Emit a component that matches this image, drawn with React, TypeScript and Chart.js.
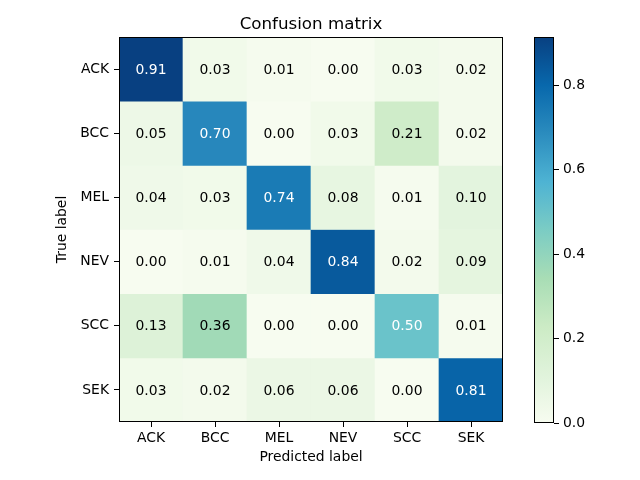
import React, { useEffect, useRef } from "react";
import { Chart, registerables } from "chart.js";

Chart.register(...registerables);

const TITLE = "Confusion matrix";
const LABELS = ["ACK", "BCC", "MEL", "NEV", "SCC", "SEK"];
const ROW_ACK = [0.914, 0.03, 0.01, 0.0, 0.03, 0.02];
const ROW_BCC = [0.05, 0.7, 0.0, 0.03, 0.21, 0.02];
const ROW_MEL = [0.04, 0.03, 0.74, 0.08, 0.01, 0.1];
const ROW_NEV = [0.0, 0.01, 0.04, 0.84, 0.02, 0.09];
const ROW_SCC = [0.13, 0.36, 0.0, 0.0, 0.5, 0.01];
const ROW_SEK = [0.03, 0.02, 0.06, 0.06, 0.0, 0.81];
const ROWS = [ROW_ACK, ROW_BCC, ROW_MEL, ROW_NEV, ROW_SCC, ROW_SEK];
const COLORBAR_TICKS = [0, 0.2, 0.4, 0.6, 0.8];

const GNBU = [
  [247, 252, 240],
  [224, 243, 219],
  [204, 235, 197],
  [168, 221, 181],
  [123, 204, 196],
  [78, 179, 211],
  [43, 140, 190],
  [8, 104, 172],
  [8, 64, 129],
];

const VMAX = Math.max(...ROWS.map((r) => Math.max(...r)));
const VMIN = 0;

function cmap(t: number): string {
  const x = Math.min(1, Math.max(0, t)) * (GNBU.length - 1);
  const i = Math.min(GNBU.length - 2, Math.floor(x));
  const f = x - i;
  const a = GNBU[i];
  const b = GNBU[i + 1];
  const c = a.map((v, k) => Math.round(v + (b[k] - v) * f));
  return `rgb(${c[0]},${c[1]},${c[2]})`;
}

const FONT = "'DejaVu Sans', sans-serif";
const FS = 13.9;

const outlinePlugin = {
  id: "outline",
  afterDraw(chart: any) {
    const { ctx, chartArea } = chart;
    ctx.save();
    ctx.strokeStyle = "#000";
    ctx.lineWidth = 1;
    ctx.strokeRect(
      Math.round(chartArea.left) + 0.5,
      Math.round(chartArea.top) + 0.5,
      Math.round(chartArea.right - chartArea.left) - 1,
      Math.round(chartArea.bottom - chartArea.top) - 1
    );
    ctx.restore();
  },
};

const axesTitlePlugin = {
  id: "axesTitle",
  afterDraw(chart: any) {
    const { ctx, chartArea } = chart;
    ctx.save();
    ctx.font = `16.7px ${FONT}`;
    ctx.fillStyle = "#000";
    ctx.textAlign = "center";
    ctx.textBaseline = "alphabetic";
    ctx.fillText(TITLE, (chartArea.left + chartArea.right) / 2, chartArea.top - 8);
    ctx.restore();
  },
};

const cellTextPlugin = {
  id: "cellText",
  afterDatasetsDraw(chart: any) {
    const { ctx } = chart;
    const xs = chart.scales.x;
    const ys = chart.scales.y;
    const thresh = VMAX / 2;
    ctx.save();
    ctx.font = `${FS}px ${FONT}`;
    ctx.textAlign = "center";
    ctx.textBaseline = "middle";
    ROWS.forEach((row, i) => {
      row.forEach((v, j) => {
        ctx.fillStyle = v > thresh ? "#fff" : "#000";
        ctx.fillText(v.toFixed(2), xs.getPixelForValue(j), ys.getPixelForValue(i) + 1);
      });
    });
    ctx.restore();
  },
};

export default function App() {
  const mainRef = useRef<HTMLCanvasElement>(null);
  const barRef = useRef<HTMLCanvasElement>(null);

  useEffect(() => {
    const datasets = ROWS.map((row, i) => ({
      label: LABELS[i],
      data: row.map(() => [i - 0.5, i + 0.5]),
      backgroundColor: row.map((v) => cmap((v - VMIN) / (VMAX - VMIN))),
      borderWidth: 0,
      grouped: false,
      barPercentage: 1,
      categoryPercentage: 1,
    }));

    const main = new Chart(mainRef.current!, {
      type: "bar",
      data: { labels: LABELS, datasets: datasets as any },
      options: {
        animation: false,
        responsive: false,
        maintainAspectRatio: false,
        layout: { padding: { left: 0, right: 137, top: 37, bottom: 0 } },
        plugins: {
          legend: { display: false },
          tooltip: { enabled: false },
          title: { display: false },
        },
        scales: {
          x: {
            type: "category",
            offset: true,
            grid: { drawOnChartArea: false, drawTicks: true, tickLength: 5, color: "#000", offset: false },
            border: { display: false },
            ticks: { color: "#000", font: { family: FONT, size: FS }, padding: 3, maxRotation: 0 },
            title: {
              display: true,
              text: "Predicted label",
              color: "#000",
              font: { family: FONT, size: FS, lineHeight: 1.2 },
              padding: { top: 0, bottom: 14.5 },
            },
            afterFit(scale: any) {
              scale.height = 58;
            },
          },
          y: {
            type: "linear",
            min: -0.5,
            max: 5.5,
            reverse: true,
            grid: { drawOnChartArea: false, drawTicks: true, tickLength: 5, color: "#000" },
            border: { display: false },
            afterBuildTicks(scale: any) {
              scale.ticks = LABELS.map((_, i) => ({ value: i }));
            },
            ticks: {
              color: "#000",
              font: { family: FONT, size: FS },
              padding: 5,
              callback: (v: any) => LABELS[Math.round(Number(v))] ?? "",
            },
            title: {
              display: true,
              text: "True label",
              color: "#000",
              font: { family: FONT, size: FS, lineHeight: 1.2 },
              padding: { top: 54.5, bottom: 0 },
            },
            afterFit(scale: any) {
              scale.width = 119;
            },
          },
        },
      },
      plugins: [cellTextPlugin, outlinePlugin, axesTitlePlugin],
    });

    const bar = new Chart(barRef.current!, {
      type: "bar",
      data: {
        labels: [""],
        datasets: [
          {
            data: [[VMIN, VMAX]] as any,
            backgroundColor: (c: any) => {
              const ca = c.chart.chartArea;
              if (!ca) return cmap(0.5);
              const g = c.chart.ctx.createLinearGradient(0, ca.bottom, 0, ca.top);
              GNBU.forEach((col, k) => g.addColorStop(k / (GNBU.length - 1), `rgb(${col[0]},${col[1]},${col[2]})`));
              return g;
            },
            borderWidth: 0,
            barPercentage: 1,
            categoryPercentage: 1,
          },
        ],
      },
      options: {
        animation: false,
        responsive: false,
        maintainAspectRatio: false,
        layout: { padding: { left: 534, right: 0, top: 37, bottom: 57 } },
        plugins: { legend: { display: false }, tooltip: { enabled: false }, title: { display: false } },
        scales: {
          x: { display: false },
          y: {
            position: "right",
            min: VMIN,
            max: VMAX,
            grid: { drawOnChartArea: false, drawTicks: true, tickLength: 5, color: "#000" },
            border: { display: false },
            afterBuildTicks(scale: any) {
              scale.ticks = COLORBAR_TICKS.map((v) => ({ value: v }));
            },
            ticks: {
              color: "#000",
              font: { family: FONT, size: FS },
              padding: 4,
              callback: (v: any) => Number(v).toFixed(1),
            },
            afterFit(scale: any) {
              scale.width = 86;
            },
          },
        },
      },
      plugins: [outlinePlugin],
    });

    return () => {
      main.destroy();
      bar.destroy();
    };
  }, []);

  return (
    <div style={{ position: "fixed", left: 0, top: 0, width: 640, height: 480, background: "#fff" }}>
      <canvas ref={mainRef} width={640} height={480} style={{ position: "absolute", left: 0, top: 0 }} />
      <canvas ref={barRef} width={640} height={480} style={{ position: "absolute", left: 0, top: 0 }} />
    </div>
  );
}
